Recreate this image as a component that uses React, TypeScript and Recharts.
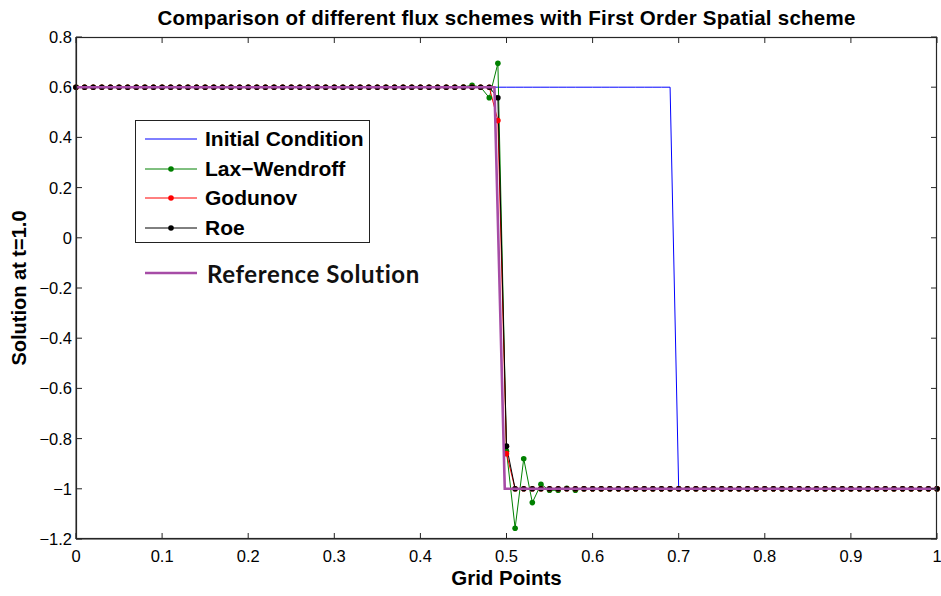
import React from 'react';
import { LineChart, Line, XAxis, YAxis } from 'recharts';

// Grid points x_i = 0 .. 1
const gridPoints = [
  0, 0.01, 0.02, 0.03, 0.04, 0.05, 0.06, 0.07, 0.08, 0.09,
  0.1, 0.11, 0.12, 0.13, 0.14, 0.15, 0.16, 0.17, 0.18, 0.19,
  0.2, 0.21, 0.22, 0.23, 0.24, 0.25, 0.26, 0.27, 0.28, 0.29,
  0.3, 0.31, 0.32, 0.33, 0.34, 0.35, 0.36, 0.37, 0.38, 0.39,
  0.4, 0.41, 0.42, 0.43, 0.44, 0.45, 0.46, 0.47, 0.48, 0.49,
  0.5, 0.51, 0.52, 0.53, 0.54, 0.55, 0.56, 0.57, 0.58, 0.59,
  0.6, 0.61, 0.62, 0.63, 0.64, 0.65, 0.66, 0.67, 0.68, 0.69,
  0.7, 0.71, 0.72, 0.73, 0.74, 0.75, 0.76, 0.77, 0.78, 0.79,
  0.8, 0.81, 0.82, 0.83, 0.84, 0.85, 0.86, 0.87, 0.88, 0.89,
  0.9, 0.91, 0.92, 0.93, 0.94, 0.95, 0.96, 0.97, 0.98, 0.99,
  1,
];

const initialCondition = [
  0.6, 0.6, 0.6, 0.6, 0.6, 0.6, 0.6, 0.6, 0.6, 0.6,
  0.6, 0.6, 0.6, 0.6, 0.6, 0.6, 0.6, 0.6, 0.6, 0.6,
  0.6, 0.6, 0.6, 0.6, 0.6, 0.6, 0.6, 0.6, 0.6, 0.6,
  0.6, 0.6, 0.6, 0.6, 0.6, 0.6, 0.6, 0.6, 0.6, 0.6,
  0.6, 0.6, 0.6, 0.6, 0.6, 0.6, 0.6, 0.6, 0.6, 0.6,
  0.6, 0.6, 0.6, 0.6, 0.6, 0.6, 0.6, 0.6, 0.6, 0.6,
  0.6, 0.6, 0.6, 0.6, 0.6, 0.6, 0.6, 0.6, 0.6, 0.6,
  -1, -1, -1, -1, -1, -1, -1, -1, -1, -1,
  -1, -1, -1, -1, -1, -1, -1, -1, -1, -1,
  -1, -1, -1, -1, -1, -1, -1, -1, -1, -1,
  -1,
];

const laxWendroff = [
  0.6, 0.6, 0.6, 0.6, 0.6, 0.6, 0.6, 0.6, 0.6, 0.6,
  0.6, 0.6, 0.6, 0.6, 0.6, 0.6, 0.6, 0.6, 0.6, 0.6,
  0.6, 0.6, 0.6, 0.6, 0.6, 0.6, 0.6, 0.6, 0.6, 0.6,
  0.6, 0.6, 0.6, 0.6, 0.6, 0.6, 0.6, 0.6, 0.6, 0.6,
  0.6, 0.6, 0.6, 0.6, 0.6, 0.601, 0.608, 0.6, 0.558, 0.695,
  -0.85, -1.157, -0.88, -1.055, -0.982, -1.006, -1.006, -0.998, -1.006, -1,
  -1, -1, -1, -1, -1, -1, -1, -1, -1, -1,
  -1, -1, -1, -1, -1, -1, -1, -1, -1, -1,
  -1, -1, -1, -1, -1, -1, -1, -1, -1, -1,
  -1, -1, -1, -1, -1, -1, -1, -1, -1, -1,
  -1,
];

const godunov = [
  0.6, 0.6, 0.6, 0.6, 0.6, 0.6, 0.6, 0.6, 0.6, 0.6,
  0.6, 0.6, 0.6, 0.6, 0.6, 0.6, 0.6, 0.6, 0.6, 0.6,
  0.6, 0.6, 0.6, 0.6, 0.6, 0.6, 0.6, 0.6, 0.6, 0.6,
  0.6, 0.6, 0.6, 0.6, 0.6, 0.6, 0.6, 0.6, 0.6, 0.6,
  0.6, 0.6, 0.6, 0.6, 0.6, 0.6, 0.6, 0.6, 0.6, 0.467,
  -0.86, -1, -1, -1, -1, -1, -1, -1, -1, -1,
  -1, -1, -1, -1, -1, -1, -1, -1, -1, -1,
  -1, -1, -1, -1, -1, -1, -1, -1, -1, -1,
  -1, -1, -1, -1, -1, -1, -1, -1, -1, -1,
  -1, -1, -1, -1, -1, -1, -1, -1, -1, -1,
  -1,
];

const roe = [
  0.6, 0.6, 0.6, 0.6, 0.6, 0.6, 0.6, 0.6, 0.6, 0.6,
  0.6, 0.6, 0.6, 0.6, 0.6, 0.6, 0.6, 0.6, 0.6, 0.6,
  0.6, 0.6, 0.6, 0.6, 0.6, 0.6, 0.6, 0.6, 0.6, 0.6,
  0.6, 0.6, 0.6, 0.6, 0.6, 0.6, 0.6, 0.6, 0.6, 0.6,
  0.6, 0.6, 0.6, 0.6, 0.6, 0.6, 0.6, 0.6, 0.6, 0.558,
  -0.83, -1, -1, -1, -1, -1, -1, -1, -1, -1,
  -1, -1, -1, -1, -1, -1, -1, -1, -1, -1,
  -1, -1, -1, -1, -1, -1, -1, -1, -1, -1,
  -1, -1, -1, -1, -1, -1, -1, -1, -1, -1,
  -1, -1, -1, -1, -1, -1, -1, -1, -1, -1,
  -1,
];

// Exact (fine-grid) reference solution
const referenceX = [0, 0.486, 0.498, 1];
const referenceY = [0.6, 0.6, -1, -1];

const xTicks = [0, 0.1, 0.2, 0.3, 0.4, 0.5, 0.6, 0.7, 0.8, 0.9, 1];
const yTicks = [-1.2, -1, -0.8, -0.6, -0.4, -0.2, 0, 0.2, 0.4, 0.6, 0.8];

const rows = gridPoints.map((x, i) => ({
  x,
  initial: initialCondition[i],
  lw: laxWendroff[i],
  godunov: godunov[i],
  roe: roe[i],
}));
const referenceRows = referenceX.map((x, i) => ({ x, ref: referenceY[i] }));

const AXIS = '#222';
const FONT = '"Liberation Sans", Arial, sans-serif';
const TICK_LEN = 6;
const fmt = (v: number) => String(v).replace('-', '\u2212');

// plot box (same as the chart margins + axis sizes)
const PLOT = { left: 76, right: 937, top: 37, bottom: 539 };
const X_DOMAIN = [0, 1];
const Y_DOMAIN = [-1.2, 0.8];
const px = (v: number) => PLOT.left + ((v - X_DOMAIN[0]) / (X_DOMAIN[1] - X_DOMAIN[0])) * (PLOT.right - PLOT.left);
const py = (v: number) => PLOT.bottom - ((v - Y_DOMAIN[0]) / (Y_DOMAIN[1] - Y_DOMAIN[0])) * (PLOT.bottom - PLOT.top);

const BottomTick = (p: any) => (
  <g>
    <line x1={p.x} y1={p.y} x2={p.x} y2={p.y - TICK_LEN} stroke={AXIS} strokeWidth={1} />
    <text x={p.x} y={p.y + 23} textAnchor="middle" fontSize={16.5} fontFamily={FONT} fill="#000">
      {fmt(p.payload.value)}
    </text>
  </g>
);
const LeftTick = (p: any) => (
  <g>
    <line x1={p.x} y1={p.y} x2={p.x + TICK_LEN} y2={p.y} stroke={AXIS} strokeWidth={1} />
    <text x={p.x - 4} y={p.y + 6} textAnchor="end" fontSize={16.5} fontFamily={FONT} fill="#000">
      {fmt(p.payload.value)}
    </text>
  </g>
);

const legendItems = [
  { name: 'Initial Condition', color: '#0000ff', dot: false },
  { name: 'Lax\u2212Wendroff', color: '#008000', dot: true },
  { name: 'Godunov', color: '#ff0000', dot: true },
  { name: 'Roe', color: '#000000', dot: true },
];

export default function App() {
  return (
    <div style={{ position: 'absolute', left: 0, top: 0, width: 941, height: 596, background: '#fff', fontFamily: FONT }}>
      {/* numerical solutions, bottom and left axes */}
      <div style={{ position: 'absolute', left: 0, top: 0 }}>
        <LineChart width={941} height={596} data={rows} margin={{ top: 37, right: 4, bottom: 0, left: 0 }}>
          <XAxis dataKey="x" type="number" domain={X_DOMAIN} ticks={xTicks} height={57}
            tickSize={0} tickMargin={0} tick={BottomTick} axisLine={{ stroke: AXIS }} interval={0} />
          <YAxis type="number" domain={Y_DOMAIN} ticks={yTicks} width={76}
            tickSize={0} tickMargin={0} tick={LeftTick} axisLine={{ stroke: AXIS }} interval={0} />
          <Line dataKey="initial" stroke="#0000ff" strokeWidth={1} dot={false} isAnimationActive={false} type="linear" />
          <Line dataKey="lw" stroke="#008000" strokeWidth={1} dot={{ r: 2.8, fill: '#008000', stroke: 'none' }} isAnimationActive={false} type="linear" />
          <Line dataKey="godunov" stroke="#ff0000" strokeWidth={1} dot={{ r: 2.8, fill: '#ff0000', stroke: 'none' }} isAnimationActive={false} type="linear" />
          <Line dataKey="roe" stroke="#000000" strokeWidth={1} dot={{ r: 2.8, fill: '#000000', stroke: 'none' }} isAnimationActive={false} type="linear" />
        </LineChart>
      </div>

      {/* reference solution drawn above the markers */}
      <div style={{ position: 'absolute', left: 0, top: 0, pointerEvents: 'none' }}>
        <LineChart width={941} height={596} data={referenceRows} margin={{ top: 37, right: 4, bottom: 0, left: 0 }}>
          <XAxis dataKey="x" type="number" domain={X_DOMAIN} ticks={xTicks} height={57} tick={false} tickLine={false} axisLine={false} />
          <YAxis type="number" domain={Y_DOMAIN} ticks={yTicks} width={76} tick={false} tickLine={false} axisLine={false} />
          <Line dataKey="ref" stroke="#a64ca6" strokeWidth={2.6} dot={false} isAnimationActive={false} type="linear" />
        </LineChart>
      </div>

      {/* full axes box with inward ticks on the top and right edges */}
      <svg width={941} height={596} viewBox="0 0 941 596"
        style={{ position: 'absolute', left: 0, top: 0, pointerEvents: 'none', zIndex: 5, overflow: 'visible' }}>
        <rect x={PLOT.left + 0.5} y={PLOT.top + 0.5} width={PLOT.right - PLOT.left - 1} height={PLOT.bottom - PLOT.top - 1}
          fill="none" stroke="#262626" strokeWidth={1.2} />
        {xTicks.map((t) => (
          <line key={'tt' + t} x1={px(t)} y1={PLOT.top} x2={px(t)} y2={PLOT.top + TICK_LEN} stroke="#262626" strokeWidth={1} />
        ))}
        {yTicks.map((t) => (
          <line key={'rt' + t} x1={PLOT.right} y1={py(t)} x2={PLOT.right - TICK_LEN} y2={py(t)} stroke="#262626" strokeWidth={1} />
        ))}
      </svg>

      <div style={{ position: 'absolute', left: 0, width: 1013, top: 6, textAlign: 'center', fontWeight: 'bold', fontSize: 20.5, letterSpacing: 0.25, lineHeight: '24px', color: '#000', zIndex: 6 }}>
        Comparison of different flux schemes with First Order Spatial scheme
      </div>
      <div style={{ position: 'absolute', left: 0, width: 1013, top: 566, textAlign: 'center', fontWeight: 'bold', fontSize: 20.5, lineHeight: '24px', color: '#000', zIndex: 6 }}>
        Grid Points
      </div>
      <div style={{ position: 'absolute', left: 19, top: 288, width: 0, height: 0, zIndex: 6 }}>
        <div style={{ position: 'absolute', left: -150, top: -12, width: 300, textAlign: 'center', fontWeight: 'bold', fontSize: 20, lineHeight: '24px', transform: 'rotate(-90deg)', color: '#000' }}>
          Solution at t=1.0
        </div>
      </div>

      <div style={{ position: 'absolute', left: 135, top: 120, width: 233, height: 121, border: '1px solid #222', background: '#fff', zIndex: 6 }}>
        {legendItems.map((it, i) => (
          <div key={it.name} style={{ position: 'absolute', left: 0, top: 4 + i * 29.5, height: 28, width: 233 }}>
            <svg width={60} height={28} style={{ position: 'absolute', left: 9, top: 0 }}>
              <line x1={0} y1={14} x2={52} y2={14} stroke={it.color} strokeWidth={1} />
              {it.dot && <circle cx={26} cy={14} r={2.8} fill={it.color} />}
            </svg>
            <div style={{ position: 'absolute', left: 69, top: 0, lineHeight: '28px', fontSize: 21, fontWeight: 'bold', color: '#000', whiteSpace: 'nowrap' }}>
              {it.name}
            </div>
          </div>
        ))}
      </div>
      <svg width={60} height={10} style={{ position: 'absolute', left: 145, top: 268, zIndex: 6 }}>
        <line x1={0} y1={5} x2={52} y2={5} stroke="#a64ca6" strokeWidth={2.5} />
      </svg>
      <div style={{ position: 'absolute', left: 207, top: 259, lineHeight: '30px', fontSize: 24, letterSpacing: 0.6, fontWeight: 'bold', fontFamily: 'Lato, "Open Sans", sans-serif', color: '#111', whiteSpace: 'nowrap', zIndex: 6 }}>
        Reference Solution
      </div>
    </div>
  );
}
